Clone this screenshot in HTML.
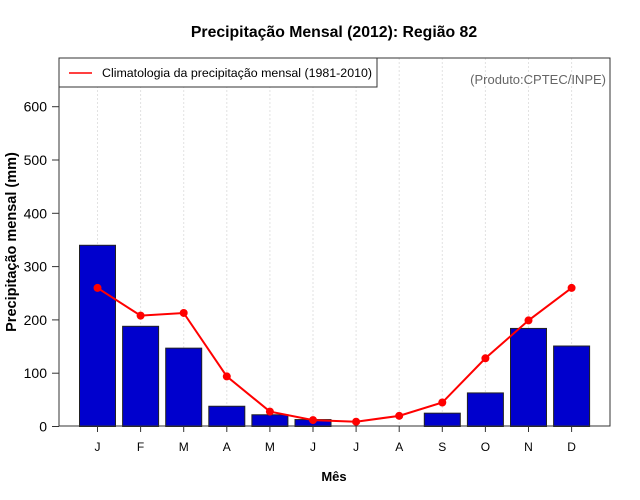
<!DOCTYPE html>
<html><head><meta charset="utf-8"><style>
body{margin:0;background:#fff;}
svg{display:block;font-family:"Liberation Sans",Arial,sans-serif;}
</style></head><body>
<svg id="chart" width="640" height="500" viewBox="0 0 640 500">
<text x="334" y="37" text-anchor="middle" font-size="15.8" font-weight="bold">Precipitação Mensal (2012): Região 82</text>
<text x="334" y="481" text-anchor="middle" font-size="13" font-weight="bold">Mês</text>
<text transform="translate(16,242) rotate(-90)" text-anchor="middle" font-size="14.5" font-weight="bold">Precipitação mensal (mm)</text>
<g id="grid"></g><g id="bars"></g><g id="line"></g><g id="axes"></g>
<rect x="59" y="58" width="551" height="368" fill="none" stroke="#333" stroke-width="1"/>
<g>
<rect x="59" y="58" width="318" height="29" fill="#fff" stroke="#333"/>
<line x1="69" y1="73" x2="92" y2="73" stroke="red" stroke-width="1.5"/>
<text x="102" y="77" font-size="12.4">Climatologia da precipitação mensal (1981-2010)</text>
</g>
<text x="606" y="84" text-anchor="end" font-size="13" fill="#666">(Produto:CPTEC/INPE)</text>
</svg>
<script>
const months=["J","F","M","A","M","J","J","A","S","O","N","D"];
const observed=[340,188,147,38,22,13,0,0,25,63,184,151];
const climatology=[260,208,213,94,28,12,9,20,45,128,199,260];
const yTicks=[0,100,200,300,400,500,600];
const NS="http://www.w3.org/2000/svg";
function xs(i){return 97.5+43.1*i;}
function ys(v){return 426.5-v*(319.8/600);}
function mk(t,a,p){const e=document.createElementNS(NS,t);for(const k in a)e.setAttribute(k,a[k]);document.getElementById(p).appendChild(e);return e;}
months.forEach((m,i)=>{
 const g=mk("line",{x1:xs(i),x2:xs(i),y1:58,y2:426,stroke:"#e2e2e2","stroke-dasharray":"2,2"},"grid");
 
 
 const t=mk("line",{x1:xs(i),x2:xs(i),y1:426,y2:432,stroke:"#333"},"axes");
 
 
 const l=mk("text",{x:xs(i),y:451,"text-anchor":"middle","font-size":"12"},"axes");
 l.textContent=m;
 
 
 const h=ys(0)-ys(observed[i]);
 if(h>0){
  const b=mk("rect",{x:xs(i)-18,y:ys(observed[i]),width:36,height:h,fill:"#0000cd",stroke:"#222","stroke-width":1},"bars");
  
  
 }
});
yTicks.forEach(v=>{
 const t=mk("line",{x1:52,x2:59,y1:ys(v),y2:ys(v),stroke:"#333"},"axes");
 
 
 const l=mk("text",{x:47,y:ys(v)+5,"text-anchor":"end","font-size":"14"},"axes");
 l.textContent=v;
 
 
});
const pl=mk("polyline",{points:climatology.map((v,i)=>xs(i)+","+ys(v)).join(" "),fill:"none",stroke:"red","stroke-width":2},"line");


climatology.forEach((v,i)=>{
 const c=mk("circle",{cx:xs(i),cy:ys(v),r:4,fill:"red"},"line");
 
 
});
</script>
</body></html>
